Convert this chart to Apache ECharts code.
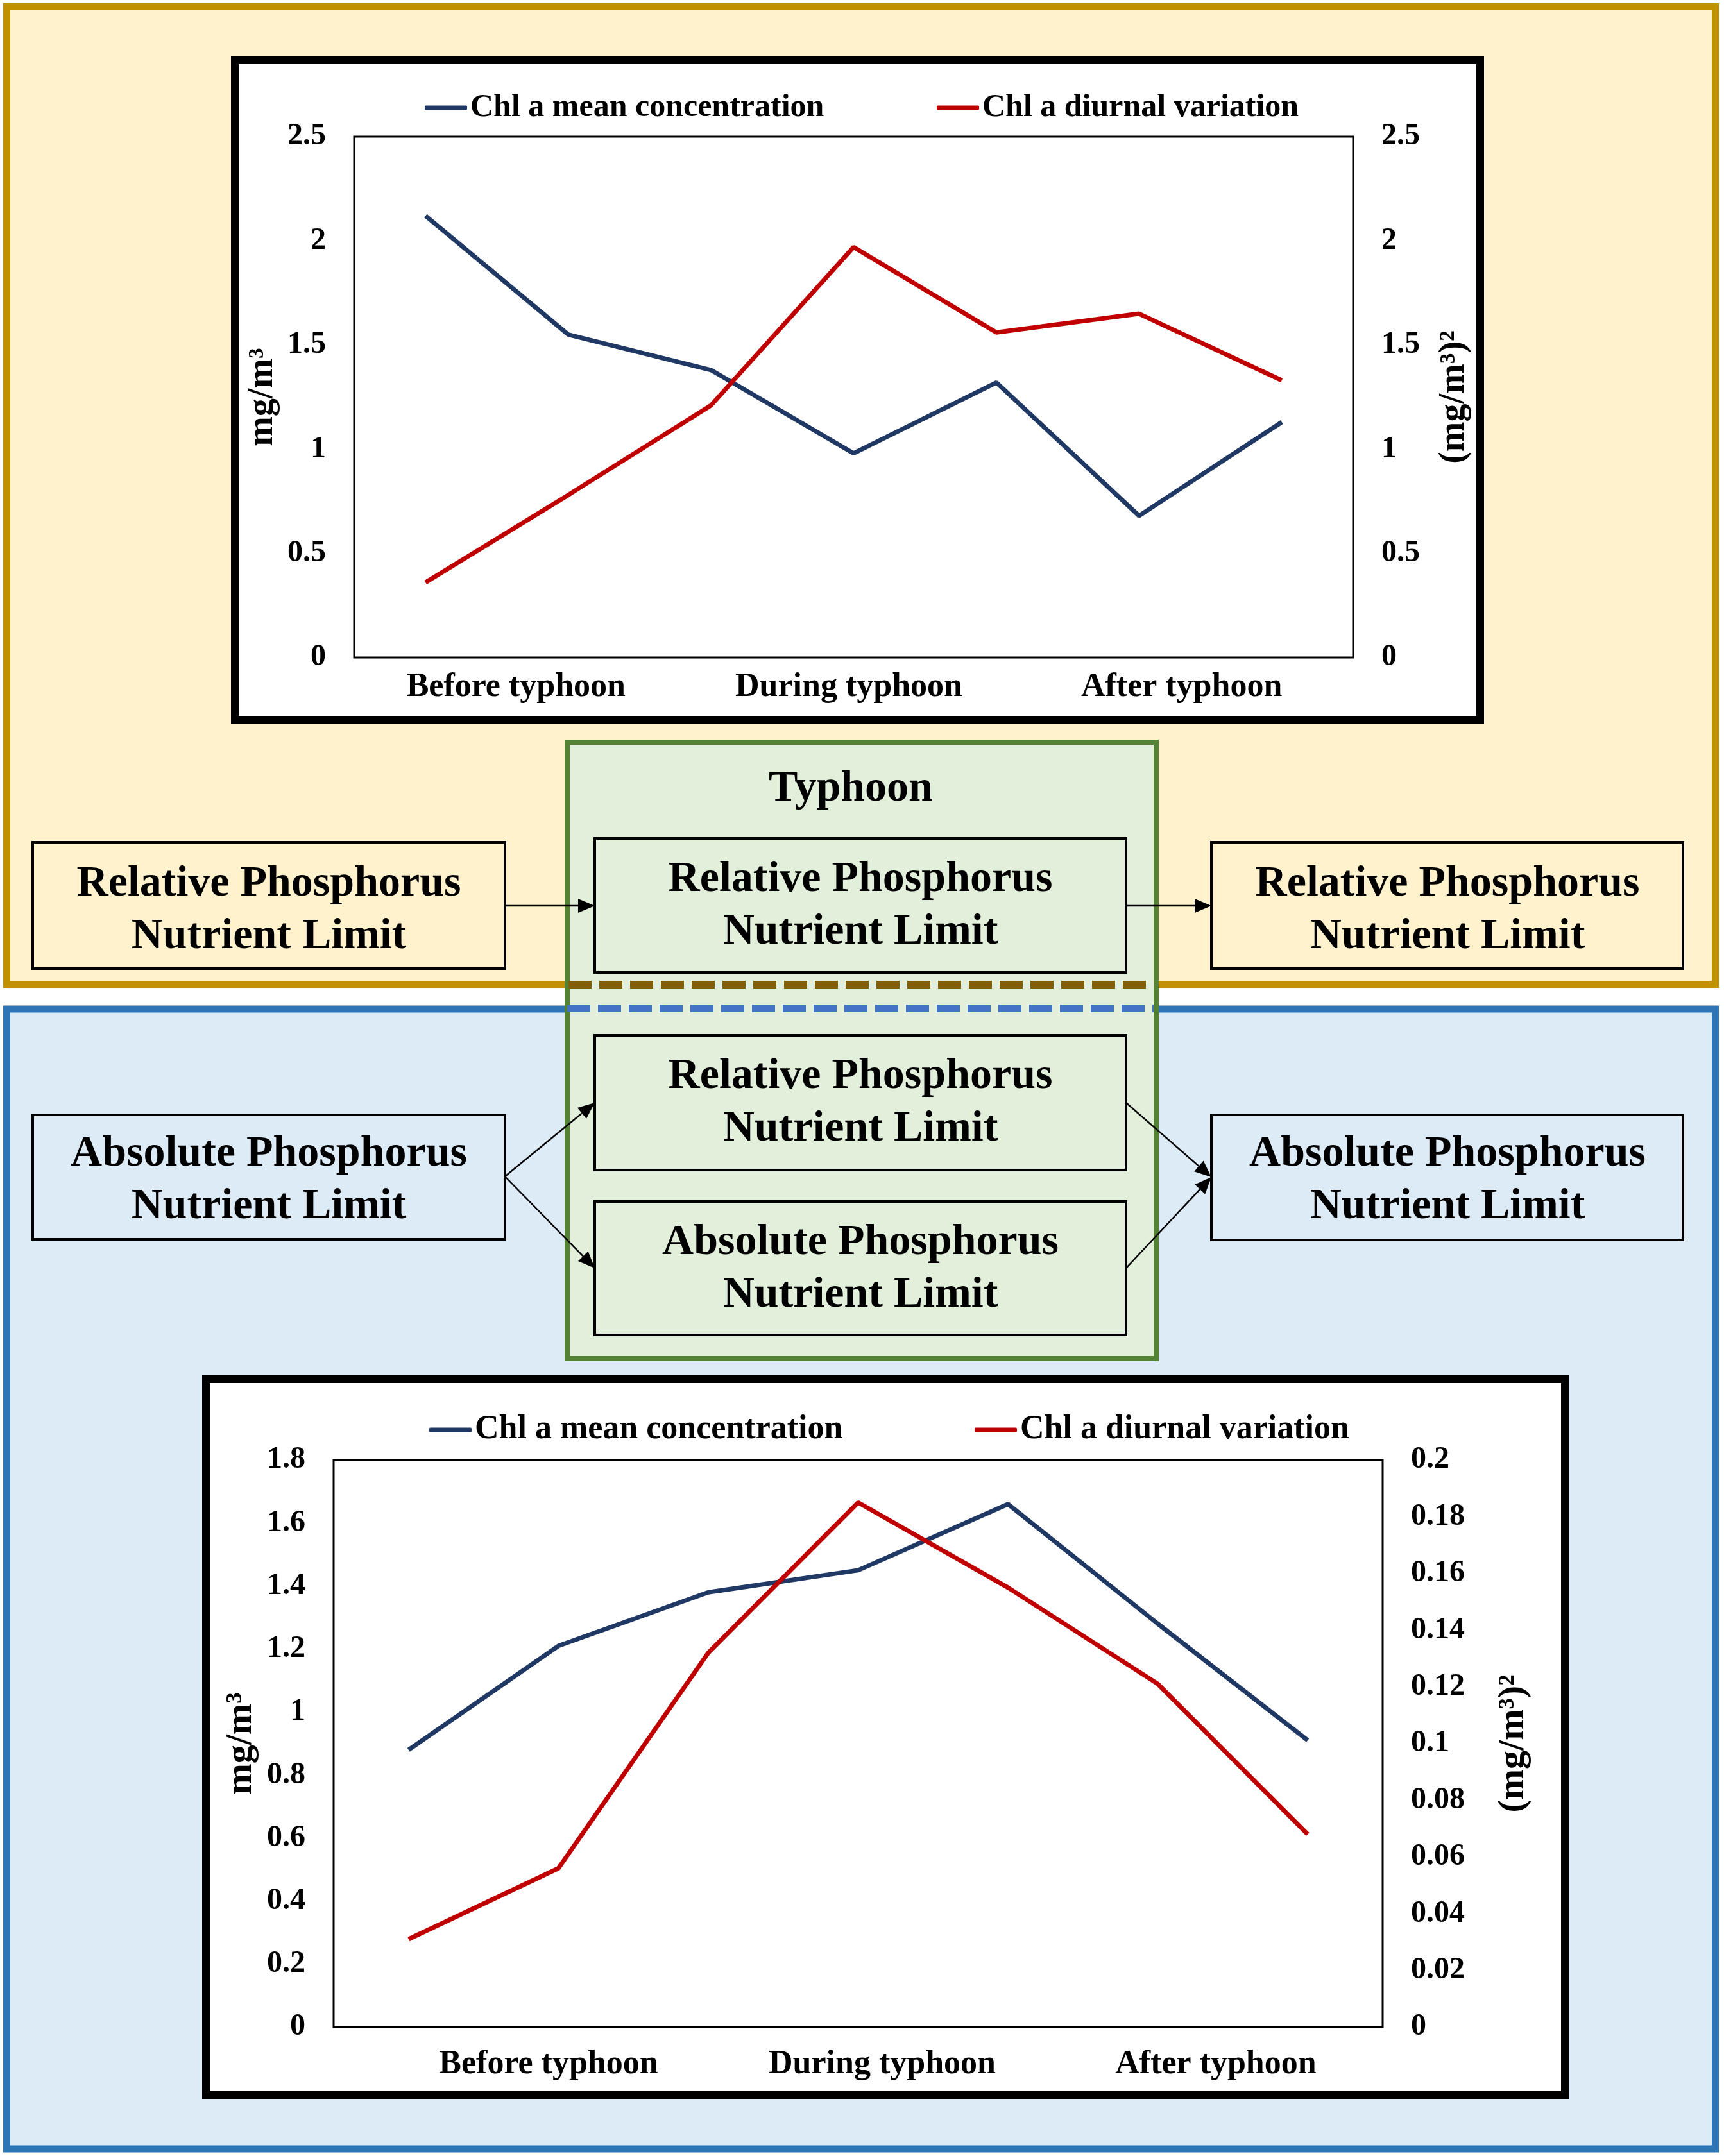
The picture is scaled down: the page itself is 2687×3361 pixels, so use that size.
<!DOCTYPE html>
<html>
<head>
<meta charset="utf-8">
<title>Chl a response to typhoon under phosphorus limitation</title>
<script src="https://cdn.jsdelivr.net/npm/echarts@6/dist/echarts.min.js"></script>
<style>
    html, body { margin: 0; padding: 0; background: #fff; }
    #chart { width: 2687px; height: 3361px; }
</style>
</head>
<body>
<div id="chart"></div>
<script>
// sampling points along the typhoon passage (7 per chart)
var periods = ['P1', 'P2', 'P3', 'P4', 'P5', 'P6', 'P7'];
var phaseLabels = ['Before typhoon', 'During typhoon', 'After typhoon'];

// upper chart: relative phosphorus limit case
var relMean = [2.12, 1.55, 1.38, 0.98, 1.32, 0.68, 1.13];
var relDiurnal = [0.36, 0.78, 1.21, 1.97, 1.56, 1.65, 1.33];

// lower chart: absolute phosphorus limit case
var absMean = [0.88, 1.21, 1.38, 1.45, 1.66, 1.28, 0.91];
var absDiurnal = [0.031, 0.056, 0.132, 0.185, 0.155, 0.121, 0.068];

var MEAN_NAME = 'Chl a mean concentration';
var DIURNAL_NAME = 'Chl a diurnal variation';
var BLUE = '#203864';
var RED = '#C00000';
var FONT = "'Liberation Serif', 'Times New Roman', serif";

var chartDom = document.getElementById('chart');
var chart = echarts.init(chartDom);

function rect(x0, y0, x1, y1, fill, stroke, lw, z) {
    return {
        type: 'rect', z: z,
        shape: { x: x0, y: y0, width: x1 - x0, height: y1 - y0 },
        style: { fill: fill, stroke: stroke, lineWidth: lw }
    };
}

function text(str, cx, cy) {
    return {
        type: 'text', z: -5,
        style: {
            text: str, x: cx, y: cy, fill: '#000',
            font: 'bold 68px ' + FONT,
            align: 'center', verticalAlign: 'middle', lineHeight: 82
        }
    };
}

function dashed(x0, x1, y, color) {
    return {
        type: 'line', z: -7,
        shape: { x1: x0, y1: y, x2: x1, y2: y },
        style: { stroke: color, lineWidth: 12, lineDash: [36, 12] }
    };
}

function arrow(x0, y0, x1, y1) {
    var dx = x1 - x0, dy = y1 - y0;
    var len = Math.sqrt(dx * dx + dy * dy);
    var ux = dx / len, uy = dy / len;
    var hl = 26, hw = 11;
    var bx = x1 - ux * hl, by = y1 - uy * hl;
    return [
        {
            type: 'line', z: -5,
            shape: { x1: x0, y1: y0, x2: bx, y2: by },
            style: { stroke: '#000', lineWidth: 2.5 }
        },
        {
            type: 'polygon', z: -5,
            shape: { points: [[x1, y1], [bx - uy * hw, by + ux * hw], [bx + uy * hw, by - ux * hw]] },
            style: { fill: '#000' }
        }
    ];
}

var boxText = 'Relative Phosphorus\nNutrient Limit';
var boxTextAbs = 'Absolute Phosphorus\nNutrient Limit';

var elements = [
    // panels
    rect(10.5, 10.5, 2673.5, 1534.5, '#FFF2CC', '#BF9000', 11, -10),
    rect(10.5, 1573, 2673.5, 3350, '#DDEBF7', '#2E75B6', 11, -10),
    // chart frames
    rect(366, 94, 2307, 1122, '#fff', '#000', 12, -9),
    rect(321, 2150, 2439, 3266, '#fff', '#000', 12, -9),
    // typhoon box
    rect(884, 1157, 1802, 2118, '#E2EFDA', '#548235', 8, -9),
    dashed(886, 1798, 1535, '#7F6000'),
    dashed(884, 1798, 1572, '#4472C4'),
    // boxes
    rect(51, 1313, 787, 1510, '#FFF2CC', '#000', 4, -6),
    rect(927, 1307, 1755, 1516, '#E2EFDA', '#000', 4, -6),
    rect(1888, 1313, 2623, 1510, '#FFF2CC', '#000', 4, -6),
    rect(51, 1738, 787, 1932, '#DDEBF7', '#000', 4, -6),
    rect(927, 1614, 1755, 1824, '#E2EFDA', '#000', 4, -6),
    rect(927, 1873, 1755, 2081, '#E2EFDA', '#000', 4, -6),
    rect(1888, 1738, 2623, 1933, '#DDEBF7', '#000', 4, -6),
    // texts
    {
        type: 'text', z: -5,
        style: {
            text: 'Typhoon', x: 1326, y: 1230, fill: '#000',
            font: 'bold 68px ' + FONT, align: 'center', verticalAlign: 'middle'
        }
    },
    text(boxText, 419, 1419),
    text(boxText, 1341, 1412),
    text(boxText, 2256, 1419),
    text(boxTextAbs, 419, 1840),
    text(boxText, 1341, 1719),
    text(boxTextAbs, 1341, 1978),
    text(boxTextAbs, 2256, 1840)
];

elements = elements.concat(
    arrow(787, 1412, 927, 1412),
    arrow(1755, 1412, 1888, 1412),
    arrow(787, 1834, 927, 1719),
    arrow(787, 1834, 927, 1977),
    arrow(1755, 1719, 1888, 1835),
    arrow(1755, 1977, 1888, 1835)
);

var tickLabel = {
    fontFamily: FONT, fontWeight: 'bold', fontSize: 48, color: '#000',
    margin: 44, padding: [6, 0, 0, 0]
};

function valueAxis(grid, pos, max, step, name, nameSize, gap) {
    return {
        gridIndex: grid, type: 'value', position: pos,
        min: 0, max: max, interval: step,
        axisLine: { show: false }, axisTick: { show: false }, splitLine: { show: false },
        axisLabel: tickLabel,
        name: name, nameLocation: 'middle', nameGap: gap,
        nameTextStyle: { fontFamily: FONT, fontWeight: 'bold', fontSize: nameSize, color: '#000' }
    };
}

function phaseAxis(grid, margin) {
    return {
        gridIndex: grid, type: 'category', data: phaseLabels,
        axisLine: { show: false }, axisTick: { show: false }, splitLine: { show: false },
        axisLabel: { fontFamily: FONT, fontWeight: 'bold', fontSize: 52, color: '#000', margin: margin }
    };
}

function legend(name, left, top, size) {
    return {
        data: [name], left: left, top: top, padding: 0, orient: 'horizontal',
        icon: 'roundRect', itemWidth: 66, itemHeight: 7, selectedMode: false,
        textStyle: { fontFamily: FONT, fontWeight: 'bold', fontSize: size, color: '#000' }
    };
}

function lineSeries(name, x, y, data, color) {
    return {
        name: name, type: 'line', xAxisIndex: x, yAxisIndex: y, data: data,
        symbol: 'none', showSymbol: false, color: color,
        lineStyle: { width: 7, color: color }, z: 3
    };
}

var option = {
    backgroundColor: '#fff',
    animation: false,
    graphic: { elements: elements },
    legend: [
        legend(MEAN_NAME, 662, 143, 50),
        legend(DIURNAL_NAME, 1460, 143, 50),
        legend(MEAN_NAME, 669, 2203, 52),
        legend(DIURNAL_NAME, 1519, 2203, 52)
    ],
    grid: [
        { left: 552, top: 213, width: 1557, height: 812, show: true, backgroundColor: '#fff', borderColor: '#000', borderWidth: 3 },
        { left: 545, top: 213, width: 1556, height: 812 },
        { left: 520, top: 2276, width: 1635, height: 884, show: true, backgroundColor: '#fff', borderColor: '#000', borderWidth: 3 },
        { left: 595, top: 2276, width: 1560, height: 884 }
    ],
    xAxis: [
        { gridIndex: 0, type: 'category', data: periods, boundaryGap: true, show: false },
        phaseAxis(1, 21),
        { gridIndex: 2, type: 'category', data: periods, boundaryGap: true, show: false },
        phaseAxis(3, 33)
    ],
    yAxis: [
        valueAxis(0, 'left', 2.5, 0.5, 'mg/m\u00B3', 56, 106),
        valueAxis(0, 'right', 2.5, 0.5, '(mg/m\u00B3)\u00B2', 56, 130),
        { gridIndex: 1, type: 'value', min: 0, max: 1, show: false },
        valueAxis(2, 'left', 1.8, 0.2, 'mg/m\u00B3', 58, 112),
        valueAxis(2, 'right', 0.2, 0.02, '(mg/m\u00B3)\u00B2', 58, 175),
        { gridIndex: 3, type: 'value', min: 0, max: 1, show: false }
    ],
    series: [
        lineSeries(MEAN_NAME, 0, 0, relMean, BLUE),
        lineSeries(DIURNAL_NAME, 0, 1, relDiurnal, RED),
        lineSeries(MEAN_NAME, 2, 3, absMean, BLUE),
        lineSeries(DIURNAL_NAME, 2, 4, absDiurnal, RED)
    ]
};

chart.setOption(option);

const resizeObserver = new ResizeObserver(() => {
    chart.resize();
});
resizeObserver.observe(chartDom);
</script>
</body>
</html>
